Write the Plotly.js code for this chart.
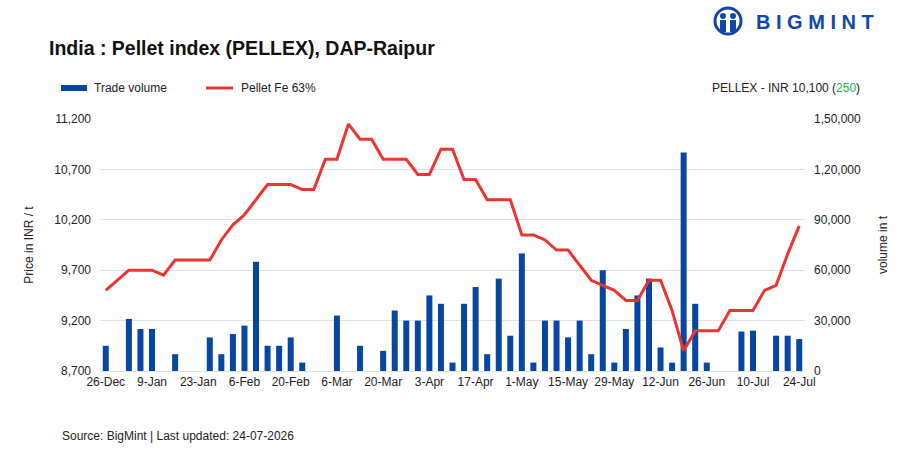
<!DOCTYPE html>
<html><head><meta charset="utf-8">
<script src="https://cdn.plot.ly/plotly-3.0.1.min.js"></script>
<style>html,body{margin:0;padding:0;background:#fff;}#chart{width:907px;height:453px;}</style>
</head><body><div id="chart"></div>
<script>
// ---- data ----
const dates = ["26-Dec","30-Dec","2-Jan","6-Jan","9-Jan","13-Jan","16-Jan","20-Jan","23-Jan","27-Jan","30-Jan","3-Feb","6-Feb","10-Feb","13-Feb","17-Feb","20-Feb","24-Feb","27-Feb","3-Mar","6-Mar","10-Mar","13-Mar","17-Mar","20-Mar","24-Mar","27-Mar","31-Mar","3-Apr","7-Apr","10-Apr","14-Apr","17-Apr","21-Apr","24-Apr","28-Apr","1-May","5-May","8-May","12-May","15-May","19-May","22-May","26-May","29-May","2-Jun","5-Jun","9-Jun","12-Jun","16-Jun","19-Jun","23-Jun","26-Jun","30-Jun","3-Jul","7-Jul","10-Jul","14-Jul","17-Jul","21-Jul","24-Jul"];
const tradeVolume = [15000,null,31000,25000,25000,null,10000,null,null,20000,10000,22000,27000,65000,15000,15000,20000,5000,null,null,33000,null,15000,null,12000,36000,30000,30000,45000,40000,5000,40000,50000,10000,55000,21000,70000,5000,30000,30000,20000,30000,10000,60000,5000,25000,45000,55000,14000,5000,130000,40000,5000,null,null,23500,24000,null,21000,21000,19000];
const pelletFe63 = [9500,9600,9700,9700,9700,9650,9800,9800,9800,9800,10000,10150,10250,10400,10550,10550,10550,10500,10500,10800,10800,11150,11000,11000,10800,10800,10800,10650,10650,10900,10900,10600,10600,10400,10400,10400,10050,10050,10000,9900,9900,9750,9600,9550,9500,9400,9400,9600,9600,9300,8900,9100,9100,9100,9300,9300,9300,9500,9550,9860,10140];
const xTickLabels = ["26-Dec","9-Jan","23-Jan","6-Feb","20-Feb","6-Mar","20-Mar","3-Apr","17-Apr","1-May","15-May","29-May","12-Jun","26-Jun","10-Jul","24-Jul"];
const priceTicks = [8700,9200,9700,10200,10700,11200];
const volumeTicks = [0,30000,60000,90000,120000,150000];
const volumeTickText = ["0","30,000","60,000","90,000","1,20,000","1,50,000"];

// ---- layout helpers (pixel -> paper) ----
const W=907,H=453,L=100,R=805,T=119,B=371;
const px = x => (x-L)/(R-L);
const py = y => (B-y)/(B-T);
const FONT = "Liberation Sans, Arial, sans-serif";
const BLUE = "#0747A1", RED = "#EC3431", LOGO = "#1148A8";

const traces = [
  {type:"bar", x:dates, y:tradeVolume, yaxis:"y", marker:{color:BLUE}, name:"Trade volume", hoverinfo:"x+y"},
  {type:"scatter", mode:"lines", x:dates, y:pelletFe63, yaxis:"y2", line:{color:RED,width:3}, name:"Pellet Fe 63%"}
];

const shapes = [
  {type:"rect", xref:"paper", yref:"paper", x0:px(61), x1:px(87), y0:py(91), y1:py(85), fillcolor:BLUE, line:{width:0}},
  {type:"line", xref:"paper", yref:"paper", x0:px(206), x1:px(233), y0:py(88), y1:py(88), line:{color:RED,width:3}},
  // logo icon
  {type:"circle", xref:"paper", yref:"paper", x0:px(715), x1:px(741), y0:py(34), y1:py(8), line:{color:LOGO,width:3}, fillcolor:"rgba(0,0,0,0)"},
  {type:"circle", xref:"paper", yref:"paper", x0:px(720), x1:px(726), y0:py(19), y1:py(13), line:{width:0}, fillcolor:LOGO},
  {type:"circle", xref:"paper", yref:"paper", x0:px(730), x1:px(736), y0:py(19), y1:py(13), line:{width:0}, fillcolor:LOGO},
  {type:"rect", xref:"paper", yref:"paper", x0:px(720), x1:px(726), y0:py(32), y1:py(20), line:{width:0}, fillcolor:LOGO},
  {type:"rect", xref:"paper", yref:"paper", x0:px(730), x1:px(736), y0:py(32), y1:py(20), line:{width:0}, fillcolor:LOGO}
];

const annotations = [
  {xref:"paper", yref:"paper", x:px(47), y:py(48), xanchor:"left", yanchor:"middle", showarrow:false,
   text:"<b>India : Pellet index (PELLEX), DAP-Raipur</b>", font:{family:FONT, size:19.5, color:"#111"}},
  {xref:"paper", yref:"paper", x:px(92), y:py(88), xanchor:"left", yanchor:"middle", showarrow:false,
   text:"Trade volume", font:{family:FONT, size:12, color:"#222"}},
  {xref:"paper", yref:"paper", x:px(239), y:py(88), xanchor:"left", yanchor:"middle", showarrow:false,
   text:"Pellet Fe 63%", font:{family:FONT, size:12, color:"#222"}},
  {xref:"paper", yref:"paper", x:px(862), y:py(88), xanchor:"right", yanchor:"middle", showarrow:false,
   text:"PELLEX - INR 10,100 (<span style='color:#22B24C'>250</span>)", font:{family:FONT, size:12, color:"#222"}},
  {xref:"paper", yref:"paper", x:px(60), y:py(436), xanchor:"left", yanchor:"middle", showarrow:false,
   text:"Source: BigMint | Last updated: 24-07-2026", font:{family:FONT, size:12, color:"#222"}},
  {xref:"paper", yref:"paper", x:px(754), y:py(22), xanchor:"left", yanchor:"middle", showarrow:false,
   text:"<b>B I G M I N T</b>", font:{family:FONT, size:20, color:LOGO}}
];

const layout = {
  width:W, height:H,
  margin:{l:L, r:W-R, t:T, b:H-B, pad:0},
  paper_bgcolor:"#fff", plot_bgcolor:"#fff",
  showlegend:false, bargap:0.48,
  font:{family:FONT, size:12, color:"#222"},
  xaxis:{type:"category", range:[-0.5,60.5], tickvals:xTickLabels, ticktext:xTickLabels, ticks:"", showgrid:false,
         showline:false, zeroline:false, tickfont:{family:FONT,size:12,color:"#222"}, ticklabelstandoff:2, fixedrange:true},
  yaxis:{side:"right", range:[0,150000], tickvals:volumeTicks, ticktext:volumeTickText, ticks:"",
         showgrid:true, gridcolor:"#e3e3e3", gridwidth:1, zeroline:true, zerolinecolor:"#e3e3e3", zerolinewidth:1,
         showline:false, tickfont:{family:FONT,size:12,color:"#222"}, ticklabelstandoff:8,
         title:{text:"volume in t", font:{family:FONT,size:12,color:"#222"}, standoff:18}},
  yaxis2:{side:"left", overlaying:"y", range:[8700,11200], tickvals:priceTicks, tickformat:",", ticks:"",
          showgrid:false, zeroline:false, showline:false, tickfont:{family:FONT,size:12,color:"#222"}, ticklabelstandoff:8,
          title:{text:"Price in INR / t", font:{family:FONT,size:12,color:"#222"}, standoff:18}},
  shapes:shapes, annotations:annotations
};

Plotly.newPlot("chart", traces, layout, {displayModeBar:false, staticPlot:true});
</script>
</body></html>
